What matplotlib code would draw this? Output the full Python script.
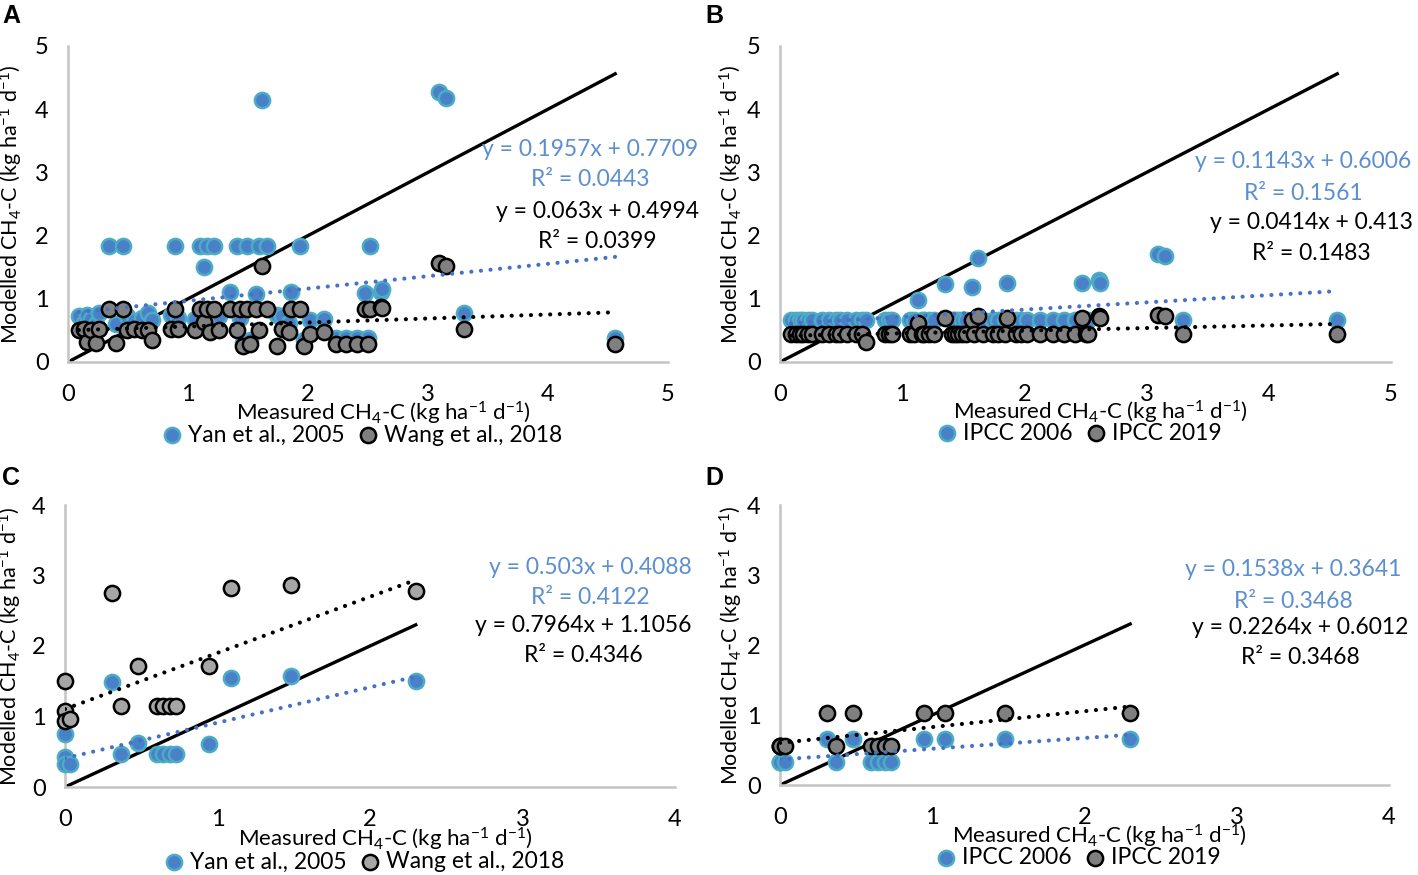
import numpy as np
import matplotlib
matplotlib.use("Agg")
import matplotlib.pyplot as plt

plt.rcParams['font.family'] = ['Lato', 'DejaVu Sans']
plt.rcParams['mathtext.default'] = 'regular'

# ---- data ----
# panels A and B share the measured values
measured_ab = [0.09, 0.13, 0.16, 0.19, 0.23, 0.26, 0.34, 0.40, 0.46, 0.49,
               0.55, 0.62, 0.67, 0.70, 0.86, 0.89, 0.92, 1.06, 1.10, 1.13,
               1.16, 1.18, 1.22, 1.26, 1.35, 1.41, 1.43, 1.46, 1.49, 1.52,
               1.57, 1.59, 1.62, 1.66, 1.74, 1.78, 1.84, 1.86, 1.93, 1.97,
               2.02, 2.13, 2.23, 2.32, 2.41, 2.475, 2.50, 2.52, 2.61, 2.62,
               3.09, 3.15, 3.30, 4.56]
yan_ab = [0.72, 0.62, 0.75, 0.68, 0.60, 0.78, 1.84, 0.60, 1.84, 0.72,
          0.65, 0.70, 0.78, 0.66, 0.75, 1.84, 0.70, 0.68, 1.84, 1.51,
          1.84, 0.70, 1.84, 0.72, 1.10, 1.84, 0.70, 0.30, 1.84, 0.35,
          1.08, 1.84, 4.15, 1.84, 0.75, 0.72, 0.62, 1.10, 1.84, 0.35,
          0.66, 0.68, 0.38, 0.38, 0.38, 1.09, 0.38, 1.84, 1.11, 1.15,
          4.27, 4.18, 0.77, 0.38]
wang_ab = [0.50, 0.52, 0.32, 0.50, 0.30, 0.52, 0.84, 0.30, 0.84, 0.50,
           0.52, 0.50, 0.50, 0.35, 0.52, 0.84, 0.52, 0.50, 0.84, 0.63,
           0.84, 0.48, 0.84, 0.50, 0.84, 0.50, 0.84, 0.25, 0.84, 0.28,
           0.84, 0.50, 1.52, 0.84, 0.25, 0.52, 0.48, 0.84, 0.84, 0.25,
           0.45, 0.48, 0.28, 0.28, 0.28, 0.84, 0.28, 0.84, 0.87, 0.85,
           1.56, 1.52, 0.52, 0.28]
ipcc06_ab = [0.66, 0.66, 0.66, 0.66, 0.66, 0.66, 0.66, 0.66, 0.66, 0.66,
             0.66, 0.66, 0.66, 0.66, 0.66, 0.66, 0.66, 0.66, 0.66, 0.98,
             0.66, 0.66, 0.66, 0.66, 1.24, 0.66, 0.66, 0.66, 0.66, 0.66,
             1.19, 0.66, 1.65, 0.66, 0.66, 0.66, 0.66, 1.25, 0.66, 0.66,
             0.66, 0.66, 0.66, 0.66, 0.66, 1.25, 0.66, 0.66, 1.30, 1.25,
             1.71, 1.68, 0.67, 0.67]
ipcc19_ab = [0.44, 0.44, 0.44, 0.44, 0.44, 0.44, 0.44, 0.44, 0.44, 0.44,
             0.44, 0.44, 0.44, 0.32, 0.44, 0.44, 0.44, 0.44, 0.44, 0.61,
             0.44, 0.44, 0.44, 0.44, 0.70, 0.44, 0.44, 0.44, 0.44, 0.44,
             0.67, 0.44, 0.72, 0.44, 0.44, 0.44, 0.44, 0.70, 0.44, 0.44,
             0.44, 0.44, 0.44, 0.44, 0.44, 0.70, 0.44, 0.44, 0.72, 0.70,
             0.74, 0.72, 0.44, 0.44]

# panels C and D share the measured values
measured_cd = [0, 0, 0, 0.03, 0.31, 0.37, 0.48, 0.60, 0.645, 0.69, 0.73, 0.946, 1.087, 1.48, 2.30]
yan_cd = [0.75, 0.42, 0.33, 0.33, 1.49, 0.47, 0.63, 0.47, 0.47, 0.47, 0.47, 0.61, 1.54, 1.58, 1.51]
wang_cd = [1.51, 1.08, 0.94, 0.97, 2.75, 1.15, 1.71, 1.15, 1.15, 1.15, 1.15, 1.71, 2.82, 2.86, 2.78]
ipcc06_cd = [0.33, 0.33, 0.33, 0.33, 0.66, 0.33, 0.66, 0.33, 0.33, 0.33, 0.33, 0.66, 0.66, 0.66, 0.66]
ipcc19_cd = [0.56, 0.56, 0.56, 0.56, 1.03, 0.56, 1.03, 0.56, 0.56, 0.56, 0.56, 1.03, 1.03, 1.03, 1.03]

# trendline coefficients printed on the chart: (slope, intercept, R2)
fit_a = [(0.1957, 0.7709, '0.0443'), (0.063, 0.4994, '0.0399')]
fit_b = [(0.1143, 0.6006, '0.1561'), (0.0414, 0.413, '0.1483')]
fit_c = [(0.503, 0.4088, '0.4122'), (0.7964, 1.1056, '0.4346')]
fit_d = [(0.1538, 0.3641, '0.3468'), (0.2264, 0.6012, '0.3468')]

W, H = 1418, 875
BLUE_FILL = '#4a80c8'
BLUE_EDGE = '#4bacc6'
BLUE_TEXT = '#5b8fcf'
BLUE_LINE = '#4472c4'
FS = 16.5

fig = plt.figure(figsize=(W / 100, H / 100), dpi=100)


def rect(x0, y0, x1, y1):
    return [x0 / W, 1 - y1 / H, (x1 - x0) / W, (y1 - y0) / H]


def panel(box, lim, meas, y1, y2, fits, labels, gray_fill, letter, letter_xy,
          eq_pos, ylab_dx, xlab_dy, leg_dy):
    ax = fig.add_axes(rect(*box))
    aw, ah = box[2] - box[0], box[3] - box[1]
    x = np.array(meas)
    top = x.max()
    ax.plot([0, top], [0, top], color='black', lw=2.4, zorder=2)
    s1 = ax.scatter(meas, y1, s=120, c=BLUE_FILL, edgecolors=BLUE_EDGE,
                    linewidths=1.8, zorder=3, clip_on=False, label=labels[0])
    s2 = ax.scatter(meas, y2, s=120, c=gray_fill, edgecolors='black',
                    linewidths=1.8, zorder=4, clip_on=False, label=labels[1])
    xs = np.array([x.min(), x.max()])
    for (m, b, r2), col in zip(fits, [BLUE_LINE, 'black']):
        ax.plot(xs, m * xs + b, color=col, lw=3.0, ls=(0, (0.01, 2.3)),
                dash_capstyle='round', zorder=5)
    ax.set_xlim(0, lim)
    ax.set_ylim(0, lim)
    ax.set_xticks(range(lim + 1))
    ax.set_yticks(range(lim + 1))
    ax.tick_params(length=0, labelsize=FS + 0.5, pad=14)
    ax.tick_params(axis='x', pad=16)
    for sp in ['top', 'right']:
        ax.spines[sp].set_visible(False)
    for sp in ['left', 'bottom']:
        ax.spines[sp].set_color('#c4c4c4')
        ax.spines[sp].set_linewidth(1.8)
    ax.set_ylabel(r'Modelled CH$_4$-C (kg ha$^{-1}$ d$^{-1}$)', fontsize=15.5)
    ax.yaxis.set_label_coords(-ylab_dx / aw, 0.5)
    ax.text(0.525, -xlab_dy / ah, r'Measured CH$_4$-C (kg ha$^{-1}$ d$^{-1}$)',
            transform=ax.transAxes, ha='center', va='center', fontsize=16)
    ax.legend(handles=[s1, s2], loc='center', bbox_to_anchor=(0.49, -leg_dy / ah),
              ncol=2, frameon=False, fontsize=FS, handlelength=0.9,
              handletextpad=0.25, columnspacing=0.55, borderaxespad=0,
              markerscale=1.0)
    fig.text(letter_xy[0] / W, 1 - letter_xy[1] / H, letter,
             fontsize=18, fontweight='bold', family='Liberation Sans',
             ha='left', va='center')
    # regression equations
    (cx1, cy1), (cx2, cy2) = eq_pos
    (m1, b1, r1), (m2, b2, r2) = fits
    for cx, cy, m, b, r, col in [(cx1, cy1, m1, b1, r1, BLUE_TEXT),
                                 (cx2, cy2, m2, b2, r2, 'black')]:
        fig.text(cx / W, 1 - cy / H, f'y = {m:g}x + {b:g}', color=col,
                 fontsize=FS, ha='center', va='center')
        fig.text(cx / W, 1 - (cy + 31) / H, f'R² = {r}', color=col,
                 fontsize=FS, ha='center', va='center')
    return ax


panel((68, 46, 668, 362), 5, measured_ab, yan_ab, wang_ab, fit_a,
      ['Yan et al., 2005', 'Wang et al., 2018'], '#808080', 'A', (2, 16),
      [(590, 149), (597, 211)], 43, 51, 73)
panel((780, 46, 1391, 362), 5, measured_ab, ipcc06_ab, ipcc19_ab, fit_b,
      ['IPCC 2006', 'IPCC 2019'], '#7f7f7f', 'B', (705, 16),
      [(1303, 162), (1311, 222)], 35, 50, 71)
panel((65, 505, 675, 787), 4, measured_cd, yan_cd, wang_cd, fit_c,
      ['Yan et al., 2005', 'Wang et al., 2018'], '#a6a6a6', 'C', (2, 478),
      [(590, 567), (583, 625)], 41, 52, 75)
panel((780, 505, 1389, 785), 4, measured_cd, ipcc06_cd, ipcc19_cd, fit_d,
      ['IPCC 2006', 'IPCC 2019'], '#7f7f7f', 'D', (705, 478),
      [(1293, 570), (1300, 627)], 35, 51, 73)

fig.savefig('out.png', dpi=100)
